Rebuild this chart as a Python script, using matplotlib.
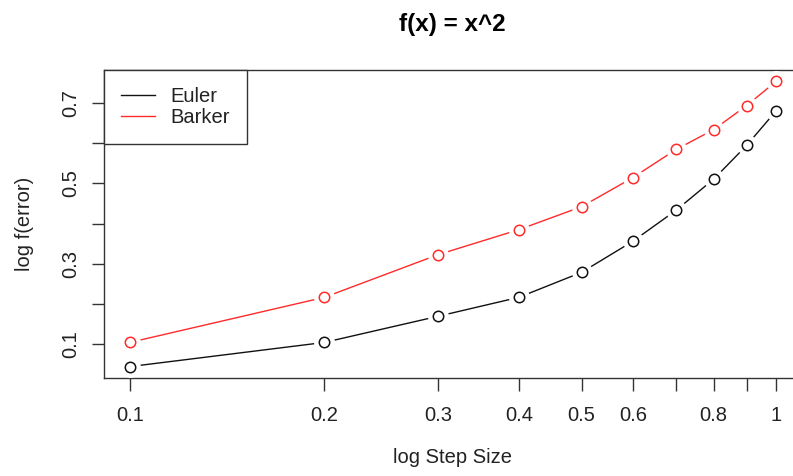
import numpy as np
import matplotlib
matplotlib.use("Agg")
import matplotlib.pyplot as plt
from matplotlib.ticker import FixedLocator, NullLocator

plt.rcParams['font.family'] = ['Liberation Sans', 'DejaVu Sans']

step_sizes = [0.1, 0.2, 0.3, 0.4, 0.5, 0.6, 0.7, 0.8, 0.9, 1.0]
euler = [0.045, 0.105, 0.170, 0.217, 0.279, 0.356, 0.433, 0.510, 0.594, 0.680]
barker = [0.105, 0.217, 0.323, 0.385, 0.442, 0.514, 0.584, 0.633, 0.693, 0.753]

x_labels = ['0.1', '0.2', '0.3', '0.4', '0.5', '0.6', '', '0.8', '', '1']
y_ticks = [0.1, 0.2, 0.3, 0.4, 0.5, 0.6, 0.7]
y_labels = ['0.1', '', '0.3', '', '0.5', '', '0.7']

W, H = 793, 476
fig = plt.figure(figsize=(W / 100, H / 100), dpi=100)
ax = fig.add_axes([104 / W, 98 / H, 698 / W, 308 / H])


def draw_series(x, y, color, label):
    # R type="b": line with gaps around the points
    ax.plot(x, y, color=color, lw=1, label=label, zorder=2)
    ax.plot(x, y, ls='none', marker='o', ms=14, mfc='white', mec='white', zorder=3)
    ax.plot(x, y, ls='none', marker='o', ms=7.5, mfc='white', mec=color, mew=1.1, zorder=4)


draw_series(step_sizes, euler, '#111111', 'Euler')
draw_series(step_sizes, barker, '#ff2a2a', 'Barker')

ax.set_xscale('log')
lx = np.log10(step_sizes)
pad_x = 0.04 * (lx.max() - lx.min())
ax.set_xlim(10 ** (lx.min() - pad_x), 10 ** (lx.max() + pad_x))
ally = euler + barker
pad_y = 0.04 * (max(ally) - min(ally))
ax.set_ylim(min(ally) - pad_y, max(ally) + pad_y)

ax.xaxis.set_major_locator(FixedLocator(step_sizes))
ax.xaxis.set_minor_locator(NullLocator())
ax.set_xticklabels(x_labels)
ax.set_yticks(y_ticks)
ax.set_yticklabels(y_labels, rotation=90, va='center')

ax.tick_params(axis='both', length=9, width=1, labelsize=14.5, color='#333333',
               labelcolor='#222222')
ax.tick_params(axis='x', pad=11)
ax.tick_params(axis='y', pad=8)
for s in ax.spines.values():
    s.set_color('#333333')
    s.set_linewidth(1)

ax.set_xlabel('log Step Size', fontsize=14.5, labelpad=17, color='#222222')
ax.set_ylabel('log f(error)', fontsize=14.5, labelpad=20, color='#222222')
fig.text(452 / W, 1 - 25 / H, 'f(x) = x^2', ha='center', va='center',
         fontsize=17.5, fontweight='bold')

leg = ax.legend(loc='upper left', borderaxespad=0, fancybox=False,
                edgecolor='#333333', framealpha=1, fontsize=14.5,
                handlelength=1.7, handletextpad=0.75, borderpad=0.85,
                labelspacing=0.1)
leg.get_frame().set_linewidth(1)
for t in leg.get_texts():
    t.set_color('#222222')

fig.savefig('out.png', dpi=100)
